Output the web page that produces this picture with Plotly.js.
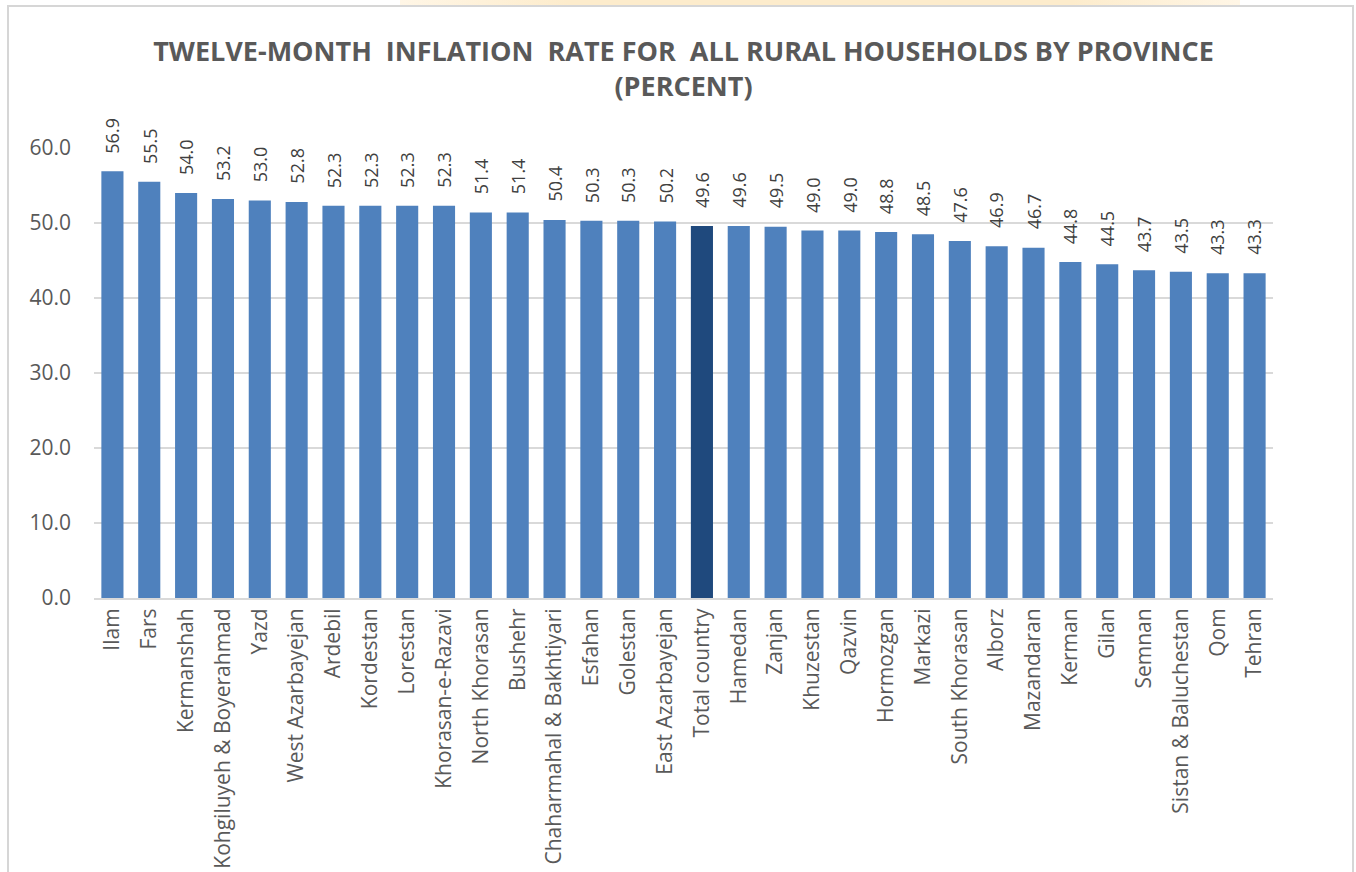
<!DOCTYPE html>
<html>
<head>
<meta charset="utf-8">
<script src="https://cdn.plot.ly/plotly-3.0.1.min.js"></script>
<style>
  html, body { margin: 0; padding: 0; background: #ffffff; overflow: hidden; }
  #wrap { position: relative; width: 1356px; height: 872px; overflow: hidden; }
  #chart { position: absolute; left: 0; top: 0; width: 1356px; height: 872px; }
  #topband { position: absolute; left: 400px; top: 0; width: 840px; height: 5px;
    background: linear-gradient(to right, #fff6e6, #fdeccc 20%, #fdeccc 80%, #fff6e6); }
  #frame { position: absolute; left: 7px; top: 5px; width: 1347px; height: 880px;
    border: 2px solid #d6d6d6; box-sizing: border-box; pointer-events: none; z-index: 10; }
</style>
</head>
<body>
<div id="wrap">
  <div id="topband"></div>
  <div id="chart"></div>
  <div id="frame"></div>
</div>
<script>
const provinces = ["Ilam","Fars","Kermanshah","Kohgiluyeh & Boyerahmad","Yazd","West Azarbayejan","Ardebil","Kordestan","Lorestan","Khorasan-e-Razavi","North Khorasan","Bushehr","Chaharmahal & Bakhtiyari","Esfahan","Golestan","East Azarbayejan","Total country","Hamedan","Zanjan","Khuzestan","Qazvin","Hormozgan","Markazi","South Khorasan","Alborz","Mazandaran","Kerman","Gilan","Semnan","Sistan & Baluchestan","Qom","Tehran"];
const inflation = [56.9,55.5,54.0,53.2,53.0,52.8,52.3,52.3,52.3,52.3,51.4,51.4,50.4,50.3,50.3,50.2,49.6,49.6,49.5,49.0,49.0,48.8,48.5,47.6,46.9,46.7,44.8,44.5,43.7,43.5,43.3,43.3];
const yTicks = [0,10,20,30,40,50,60];
const yTickLabels = ["0.0","10.0","20.0","30.0","40.0","50.0","60.0"];
const highlight = "Total country";

const baseColor = "#4F81BD";
const highlightColor = "#1F497D";
const textColor = "#595959";
const fontFam = "'Open Sans', 'Noto Sans', sans-serif";

const colors = provinces.map(p => p === highlight ? highlightColor : baseColor);

const trace = {
  type: "bar",
  x: provinces,
  y: inflation,
  marker: { color: colors },
  hoverinfo: "x+y",
  cliponaxis: false
};

const annotations = provinces.map((p, i) => ({
  x: p,
  y: inflation[i],
  xref: "x",
  yref: "y",
  text: inflation[i].toFixed(1),
  showarrow: false,
  textangle: -90,
  xanchor: "center",
  yanchor: "bottom",
  yshift: 16,
  font: { family: fontFam, size: 18, color: "#404040" }
}));

const layout = {
  width: 1356,
  height: 872,
  paper_bgcolor: "rgba(0,0,0,0)",
  plot_bgcolor: "rgba(0,0,0,0)",
  margin: { l: 94, r: 83, t: 148, b: 274, autoexpand: false },
  bargap: 0.4,
  showlegend: false,
  title: {
    text: "TWELVE-MONTH\u00a0 INFLATION\u00a0 RATE FOR\u00a0 ALL RURAL HOUSEHOLDS BY PROVINCE<br>(PERCENT)",
    font: { family: fontFam, size: 27, color: textColor, weight: "bold" },
    x: 0.5,
    xanchor: "center",
    xref: "paper",
    y: 1 - 61 / 872,
    yref: "container",
    yanchor: "middle"
  },
  xaxis: {
    type: "category",
    tickangle: -90,
    tickfont: { family: fontFam, size: 21, color: textColor },
    showgrid: false,
    showline: true,
    linecolor: "#d9d9d9",
    linewidth: 2,
    ticks: "",
    automargin: false
  },
  yaxis: {
    range: [0, 60],
    tickvals: yTicks,
    ticktext: yTickLabels,
    tickfont: { family: fontFam, size: 21, color: textColor },
    showgrid: true,
    gridcolor: "#d9d9d9",
    gridwidth: 2,
    zeroline: false,
    showline: false,
    ticks: "",
    ticklabelstandoff: 22,
    automargin: false
  },
  annotations: annotations
};

Plotly.newPlot("chart", [trace], layout, { displayModeBar: false, responsive: false });
</script>
</body>
</html>
